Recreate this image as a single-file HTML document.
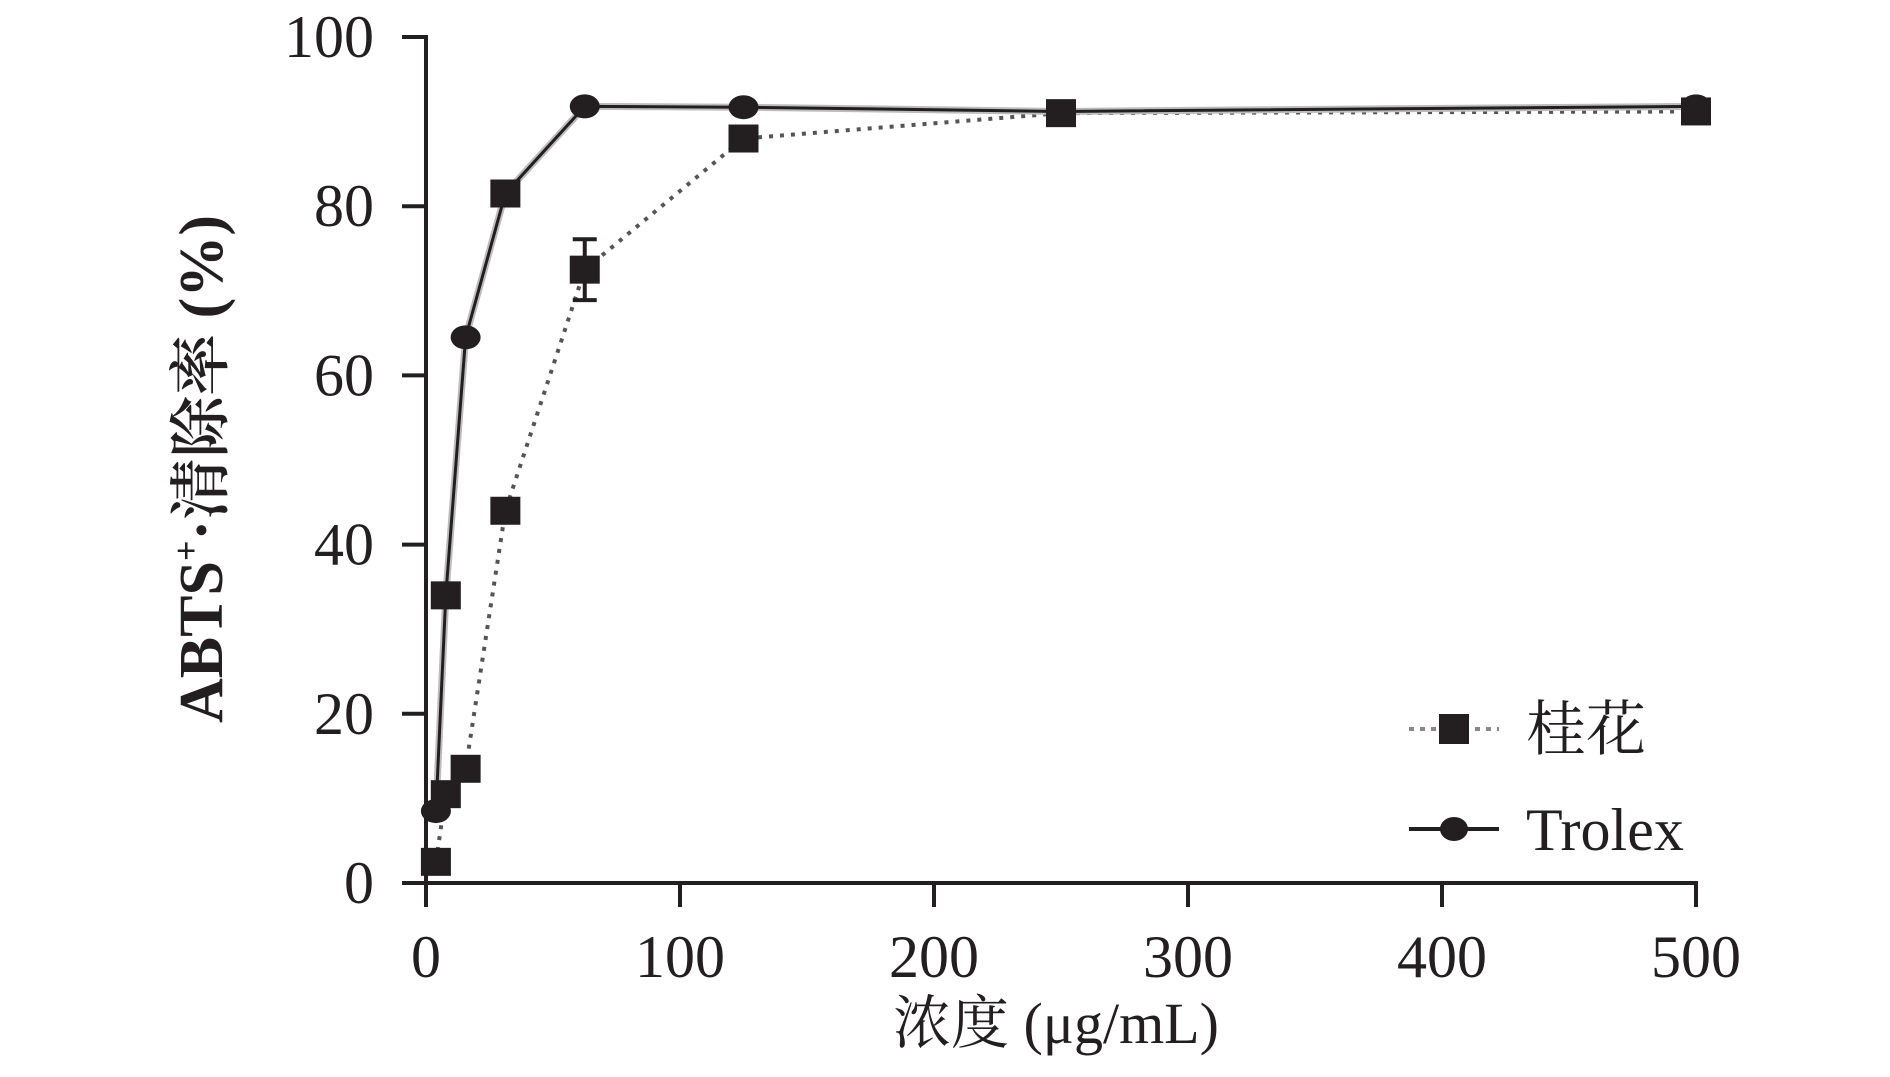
<!DOCTYPE html>
<html><head><meta charset="utf-8"><style>
html,body{margin:0;padding:0;background:#fff}
svg text{font-family:"Liberation Serif","Noto Serif CJK SC",serif;fill:#231f20}
</style></head><body>
<svg id="chart" width="1890" height="1072" viewBox="0 0 1890 1072" xmlns="http://www.w3.org/2000/svg">
<g id="axes"></g>
<g id="series"></g>
<text transform="translate(222,469) rotate(-90)" text-anchor="middle" font-size="62" font-weight="600">ABTS<tspan font-size="36" dy="-24">+</tspan><tspan dy="24">·清除率 (%)</tspan></text>
<text x="1056" y="1043" text-anchor="middle" font-size="58">浓度 (μg/mL)</text>
<g>
<line x1="1409" y1="729" x2="1499" y2="729" stroke="#8a8788" stroke-width="4" stroke-dasharray="5,6"/>
<rect x="1439" y="714" width="30" height="30" fill="#231f20"/>
<text x="1526" y="750" font-size="60">桂花</text>
<line x1="1409" y1="829" x2="1499" y2="829" stroke="#231f20" stroke-width="4"/>
<ellipse cx="1454" cy="829" rx="14" ry="12" fill="#231f20"/>
<text x="1526" y="850" font-size="60">Trolex</text>
</g>
</svg>
<script>
const xValues=[3.9,7.8,15.6,31.25,62.5,125,250,500];
const trolexValues=[8.5,34,64.5,81.5,91.8,91.7,91.2,91.8];
const osmanthusValues=[2.5,10.5,13.5,44,72.5,88,91,91.2];
const osmanthusErr=[0,0,0,0,3.6,0,0,0];
const xTicks=[0,100,200,300,400,500];
const yTicks=[0,20,40,60,80,100];
const NS="http://www.w3.org/2000/svg";
const X0=426,X1=1696,Y0=883,Y1=37;
function sx(v){return X0+(v/500)*(X1-X0);}
function sy(v){return Y0-(v/100)*(Y0-Y1);}
function mk(tag,attrs,parent){const e=document.createElementNS(NS,tag);for(const k in attrs)e.setAttribute(k,attrs[k]);parent.appendChild(e);return e;}
const axes=document.getElementById('axes');
let l=mk('line',{x1:X0,y1:Y1-2,x2:X0,y2:Y0+2,stroke:'#231f20','stroke-width':4},axes);


l=mk('line',{x1:X0-24,y1:Y0,x2:X1+2,y2:Y0,stroke:'#231f20','stroke-width':4},axes);


yTicks.forEach(t=>{
 const tk=mk('line',{x1:X0-24,y1:sy(t),x2:X0,y2:sy(t),stroke:'#231f20','stroke-width':4},axes);
 
 
 const tx=mk('text',{x:374,y:sy(t)+20,'text-anchor':'end','font-size':60},axes);
 tx.textContent=t;
 
 
});
xTicks.forEach(t=>{
 const tk=mk('line',{x1:sx(t),y1:Y0,x2:sx(t),y2:Y0+24,stroke:'#231f20','stroke-width':4},axes);
 
 
 const tx=mk('text',{x:sx(t),y:977,'text-anchor':'middle','font-size':60},axes);
 tx.textContent=t;
 
 
});
const g=document.getElementById('series');
const pts=(vals)=>vals.map((v,i)=>sx(xValues[i])+','+sy(v)).join(' ');
let pl=mk('polyline',{points:pts(osmanthusValues),fill:'none',stroke:'#555','stroke-width':4,'stroke-dasharray':'4,7'},g);


pl=mk('polyline',{points:pts(trolexValues),fill:'none',stroke:'#bdbbbc','stroke-width':7},g);


pl=mk('polyline',{points:pts(trolexValues),fill:'none',stroke:'#231f20','stroke-width':3},g);


osmanthusValues.forEach((v,i)=>{
 const e=osmanthusErr[i];
 if(e>0){
  const eb=mk('path',{d:`M${sx(xValues[i])},${sy(v-e)}V${sy(v+e)}M${sx(xValues[i])-12},${sy(v-e)}h24M${sx(xValues[i])-12},${sy(v+e)}h24`,stroke:'#231f20','stroke-width':4,fill:'none'},g);
  
  
 }
 const r=mk('rect',{x:sx(xValues[i])-15,y:sy(v)-14,width:30,height:28,fill:'#231f20'},g);
 
 
});
trolexValues.forEach((v,i)=>{
 if(i===1||i===3){
  const r=mk('rect',{x:sx(xValues[i])-15,y:sy(v)-14,width:30,height:28,fill:'#231f20'},g);
  
  
 } else {
  const c=mk('ellipse',{cx:sx(xValues[i]),cy:sy(v),rx:15,ry:12,fill:'#231f20'},g);
  
  
 }
});
</script>
</body></html>
